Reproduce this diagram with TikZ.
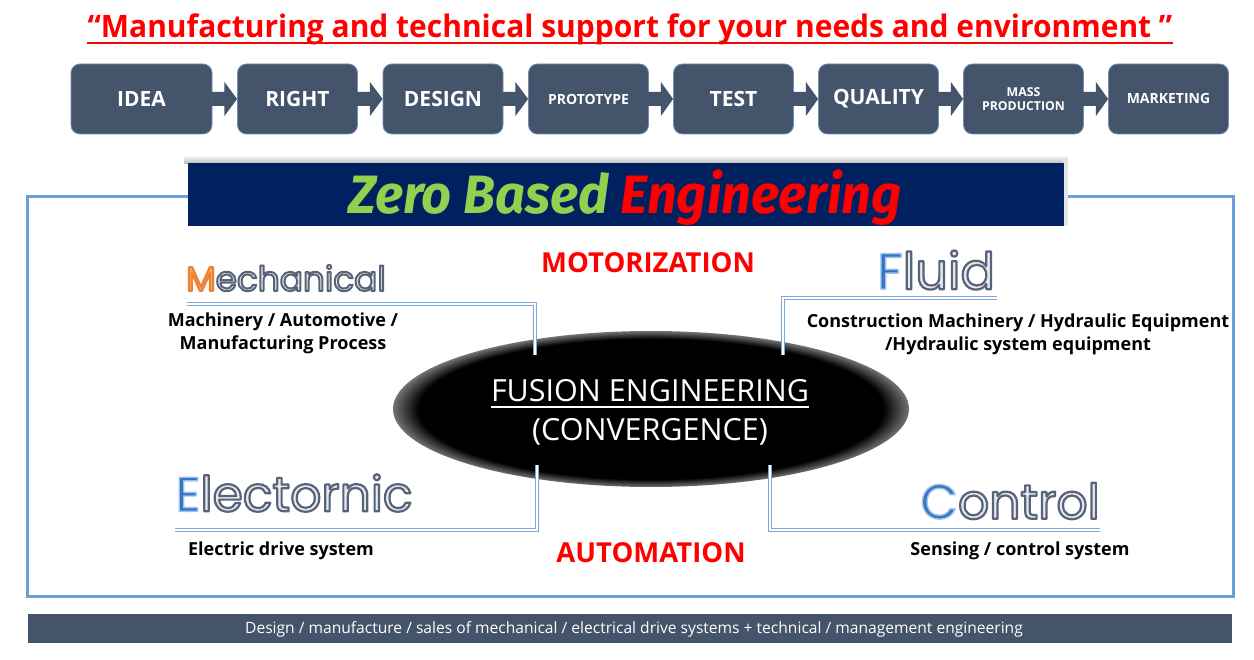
\documentclass[tikz,border=0pt]{standalone}
\usepackage{fontspec}
\usepackage{graphicx}
\setmainfont{Open Sans}
\newfontfamily\roundfont{Poppins}
\newfontfamily\zbfont{Fira Sans}
\usetikzlibrary{calc,shapes.geometric}
\definecolor{boxfill}{HTML}{44546A}
\definecolor{boxedge}{HTML}{6F8DB5}
\definecolor{framec}{HTML}{6A9FD8}
\definecolor{bannerc}{HTML}{002060}
\definecolor{zbgreen}{HTML}{92D050}
\definecolor{lineblue}{HTML}{7FA8D8}
\definecolor{outfill}{HTML}{E6EAF1}
\definecolor{orangef}{HTML}{F5A868}
\definecolor{bluef}{HTML}{3575C4}
\pgfdeclareradialshading{ellsh}{\pgfpoint{0bp}{0bp}}{color(0bp)=(black); color(22.5bp)=(black); color(25bp)=(black!55); color(50bp)=(black!55)}
\newcommand\procarrow[2]{\fill[boxfill] ($(#1.east)+(-1,-7)$) -- ++(13,0) -- ++(0,-10) -- (#2.west) -- ($(#1.east)+(12,17)$) -- ++(0,-10) -- ($(#1.east)+(-1,7)$) -- cycle;}
% #1 = stroke rgb, #2 = stroke width, #3 = fill colour, #4 = text
\newcommand\outl[4]{\textcolor{#3}{\special{pdf:literal direct #1 RG #2 w 1 j 2 Tr}#4\special{pdf:literal direct 0 Tr}}}
\begin{document}
\begin{tikzpicture}[x=1pt,y=-1pt,
 procbox/.style={rounded corners=9pt, fill=boxfill, draw=boxedge, line width=0.8pt, minimum height=70pt, minimum width=120pt, text=white, align=center, inner sep=0pt},
 bigp/.style={font=\bfseries\fontsize{21}{24}\selectfont},
 smallp/.style={font=\bfseries\fontsize{14}{16}\selectfont},
 dline/.style={draw=lineblue, double=white, double distance=1.6pt, line width=0.9pt},
 desc/.style={font=\bfseries\fontsize{18}{23}\selectfont, align=center, inner sep=0pt},
 redlbl/.style={text=red, font=\bfseries\fontsize{27.5}{30}\selectfont, inner sep=0pt},
 ]
\useasboundingbox (0,0) rectangle (1254,660);
\fill[white] (0,0) rectangle (1254,660);
% title
\node[text=red, font=\bfseries\fontsize{31}{36}\selectfont, inner sep=0pt, anchor=base] (title) at (630,38) {\scalebox{0.967}[1]{“Manufacturing and technical support for your needs and environment ”}};
\draw[red, line width=2pt] ($(title.base west)+(0,5)$) -- ($(title.base east)+(0,5)$);
% process
\node[procbox, bigp, minimum width=141pt] (p1) at (141.5,99) {IDEA};
\node[procbox, bigp] (p2) at (297.5,99) {RIGHT};
\node[procbox, bigp] (p3) at (443,99) {DESIGN};
\node[procbox, smallp] (p4) at (588.5,99) {PROTOTYPE};
\node[procbox, bigp] (p5) at (733.5,99) {TEST};
\node[procbox, bigp] (p6) at (878.5,99) {QUALITY};
\node[procbox, font=\bfseries\fontsize{12.3}{13.5}\selectfont] (p7) at (1023.5,99) {MASS\\PRODUCTION};
\node[procbox, smallp] (p8) at (1168.5,99) {MARKETING};
\procarrow{p1}{p2}
\procarrow{p2}{p3}
\procarrow{p3}{p4}
\procarrow{p4}{p5}
\procarrow{p5}{p6}
\procarrow{p6}{p7}
\procarrow{p7}{p8}
% frame
\draw[framec, line width=3pt] (27,197) rectangle (1233,596);
% banner shadow
\shade[top color=white, bottom color=black!28] (184,155) rectangle (1068,164);
\fill[black!10] (1063,160) rectangle (1068,226);
\node[fill=bannerc, minimum width=876pt, minimum height=63pt, inner sep=0pt] (banner) at (626,194.5) {};
\node[font=\zbfont\bfseries\itshape\fontsize{54}{58}\selectfont, inner sep=0pt, anchor=base] (zb) at (625,214) {\scalebox{0.97}[1]{\textcolor{zbgreen}{Zero Based} \textcolor{red}{Engineering}}};
% labels
\node[redlbl] (motor) at (648,263) {MOTORIZATION};
\node[redlbl] (auto) at (651,553) {AUTOMATION};
% ellipse
\node[ellipse, shading=ellsh, minimum width=516pt, minimum height=156pt, inner sep=0pt] (fusion) at (651,409) {};
\node[text=white, font=\fontsize{30.5}{34}\selectfont, inner sep=0pt, anchor=base] (f1) at (650,402) {FUSION ENGINEERING};
\draw[white, line width=1.2pt] ($(f1.base west)+(0,5)$) -- ($(f1.base east)+(0,5)$);
\node[text=white, font=\fontsize{30.5}{34}\selectfont, inner sep=0pt, anchor=base] (f2) at (650,440) {(CONVERGENCE)};
% fancy titles
\node[font=\roundfont\fontsize{34.3}{40}\selectfont, inner sep=0pt] (mech) at (286,278) {\outl{0.93 0.50 0.18}{2}{orangef}{M}\outl{0.35 0.39 0.47}{2}{outfill}{echanical}};
\node[font=\roundfont\fontsize{51}{56}\selectfont, inner sep=0pt] (fluid) at (936,270) {\outl{0.62 0.76 0.92}{1.4}{bluef}{F}\outl{0.35 0.39 0.47}{2.2}{outfill}{luid}};
\node[font=\roundfont\fontsize{48.8}{54}\selectfont, inner sep=0pt] (elec) at (294,493) {\outl{0.62 0.76 0.92}{1.4}{bluef}{E}\outl{0.35 0.39 0.47}{2.2}{outfill}{lectornic}};
\node[font=\roundfont\fontsize{48.8}{54}\selectfont, inner sep=0pt] (ctrl) at (1010,501) {\outl{0.62 0.76 0.92}{1.4}{bluef}{C}\outl{0.35 0.39 0.47}{2.2}{outfill}{ontrol}};
% descriptions
\node[desc] (mechd) at (283,333.5) {Machinery / Automotive /\\Manufacturing Process};
\node[desc] (fluidd) at (1018,334) {Construction Machinery / Hydraulic Equipment\\/Hydraulic system equipment};
\node[desc] (elecd) at (281,551) {Electric drive system};
\node[desc] (ctrld) at (1020,551) {Sensing / control system};
% connector lines
\coordinate (m1) at (187,304); \coordinate (m2) at (535,355);
\coordinate (fl1) at (997,298); \coordinate (fl2) at (783,355);
\coordinate (e1) at (175,530); \coordinate (e2) at (537,465);
\coordinate (c1) at (770,465); \coordinate (c2) at (1100,530);
\draw[dline] (m1) -| (m2);
\draw[dline] (fl1) -| (fl2);
\draw[dline] (e1) -| (e2);
\draw[dline] (c1) |- (c2);
% bottom bar
\node[fill=boxfill, minimum width=1204pt, minimum height=29pt, inner sep=0pt] (bar) at (630,628.5) {};
\node[text=white, font=\fontsize{15.6}{18}\selectfont, inner sep=0pt] (bart) at (634,629) {Design / manufacture / sales of mechanical / electrical drive systems + technical / management engineering};
\end{tikzpicture}
\end{document}
